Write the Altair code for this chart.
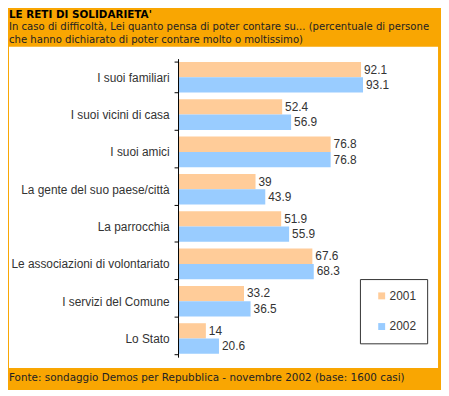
import altair as alt
import pandas as pd

categories = [
    "I suoi familiari",
    "I suoi vicini di casa",
    "I suoi amici",
    "La gente del suo paese/città",
    "La parrocchia",
    "Le associazioni di volontariato",
    "I servizi del Comune",
    "Lo Stato",
]
values_2001 = [92.1, 52.4, 76.8, 39, 51.9, 67.6, 33.2, 14]
values_2002 = [93.1, 56.9, 76.8, 43.9, 55.9, 68.3, 36.5, 20.6]
years = ["2001", "2002"]
colors = ["#FFCC99", "#99CCFF"]

title_text = "LE RETI DI SOLIDARIETA'"
subtitle_line1 = "In caso di difficoltà, Lei quanto pensa di poter contare su... (percentuale di persone"
subtitle_line2 = "che hanno dichiarato di poter contare molto o moltissimo)"
footer_text = "Fonte: sondaggio Demos per Repubblica - novembre 2002 (base: 1600 casi)"

rows = []
for c, v1, v2 in zip(categories, values_2001, values_2002):
    rows.append({"cat": c, "year": years[0], "val": v1})
    rows.append({"cat": c, "year": years[1], "val": v2})
df = pd.DataFrame(rows)

W, H = 201, 302

y_enc = alt.Y(
    "cat:N",
    sort=categories,
    title=None,
    scale=alt.Scale(paddingInner=0.18, paddingOuter=0.09),
    axis=alt.Axis(
        tickBand="extent",
        tickSize=4,
        tickColor="#000000",
        domainColor="#000000",
        labelPadding=5,
        labelFont="Liberation Sans",
        labelFontSize=12,
        labelColor="#333333",
        zindex=1,
    ),
)
yoff = alt.YOffset("year:N", sort=years, scale=alt.Scale(paddingInner=0, paddingOuter=0))
x_enc = alt.X("val:Q", scale=alt.Scale(domain=[0, 100]), axis=None)

base = alt.Chart(df)

bars = base.mark_bar().encode(
    y=y_enc,
    yOffset=yoff,
    x=x_enc,
    color=alt.Color(
        "year:N",
        sort=years,
        scale=alt.Scale(domain=years, range=colors),
        legend=alt.Legend(
            title=None,
            orient="none",
            legendX=184,
            legendY=223,
            symbolType="square",
            symbolSize=49,
            symbolStrokeWidth=0,
            symbolOffset=5,
            labelOffset=2,
            labelFont="Liberation Sans",
            labelFontSize=12,
            labelColor="#333333",
            padding=11,
            rowPadding=19,
            strokeColor="#333333",
            fillColor="#FFFFFF",
        ),
    ),
)

labels = base.mark_text(
    align="left", baseline="middle", dx=3, font="Liberation Sans", fontSize=12, color="#333333"
).encode(y=y_enc, yOffset=yoff, x=x_enc, text=alt.Text("val:Q"))

one = pd.DataFrame({"a": [0]})

white = alt.Chart(one).mark_rect(color="#FFFFFF").encode(
    x=alt.value(-171), x2=alt.value(263), y=alt.value(-12), y2=alt.value(313)
)


def deco_text(txt, ypos, size=10.5, bold=False):
    return alt.Chart(one).mark_text(
        align="left",
        baseline="middle",
        font="DejaVu Sans",
        fontSize=size,
        fontWeight="bold" if bold else "normal",
        color="#000000" if bold else "#222222",
        text=txt,
    ).encode(x=alt.value(-171), y=alt.value(ypos))


header_title = deco_text(title_text, -44, bold=True)
header_sub1 = deco_text(subtitle_line1, -32, size=10.2)
header_sub2 = deco_text(subtitle_line2, -19, size=10.2)
footer = deco_text(footer_text, 323)

chart = (
    alt.layer(white, bars, labels, header_title, header_sub1, header_sub2, footer)
    .properties(
        width=W,
        height=H,
        background="#F9A602",
        padding={"left": 172, "top": 49, "right": 65, "bottom": 31},
        autosize=alt.AutoSizeParams(type="none"),
    )
    .configure_view(strokeWidth=0)
)

chart.save("out.html", embed_options={"renderer": "svg", "actions": False})
